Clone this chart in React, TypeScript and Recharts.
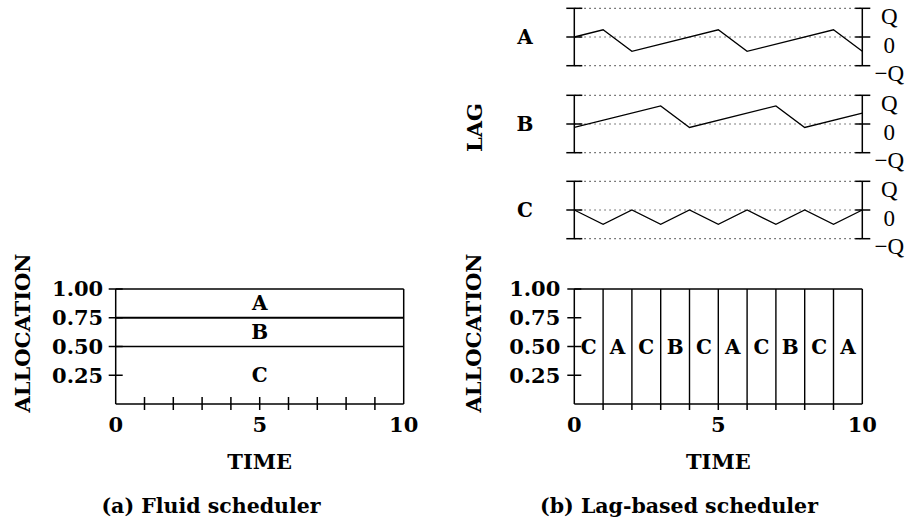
import React from 'react';
import {
  ComposedChart,
  LineChart,
  Line,
  Scatter,
  XAxis,
  YAxis,
  ReferenceLine,
  LabelList,
} from 'recharts';

const SERIF = '"DejaVu Serif", "Liberation Serif", serif';
const TIMES = '"Liberation Serif", "Times New Roman", serif';

// ---------- data ----------
const timeTicks = [0, 1, 2, 3, 4, 5, 6, 7, 8, 9, 10];
const timeLabelTicks = [0, 5, 10];
const allocationTicks = [0.25, 0.5, 0.75, 1.0];
const lagTicks = [-1, 0, 1];
const lagTickLabels = ['\u2212Q', '0', 'Q'];

// fluid scheduler: shares stacked from bottom to top
const fluidTasks = ['C', 'B', 'A'];
const fluidShares = [0.5, 0.25, 0.25];

// lag-based scheduler: task run in each unit time slot
const schedule = ['C', 'A', 'C', 'B', 'C', 'A', 'C', 'B', 'C', 'A'];

// lag curves (in units of Q)
const lagTimesA = [0, 1, 2, 5, 6, 9, 10];
const lagValuesA = [0, 0.25, -0.5, 0.25, -0.5, 0.25, -0.5];
const lagTimesB = [0, 3, 4, 7, 8, 10];
const lagValuesB = [-0.12, 0.63, -0.12, 0.63, -0.12, 0.38];
const lagTimesC = [0, 1, 2, 3, 4, 5, 6, 7, 8, 9, 10];
const lagValuesC = [0, -0.5, 0, -0.5, 0, -0.5, 0, -0.5, 0, -0.5, 0];

// ---------- derived tables ----------
const fluidTops: number[] = [];
fluidShares.reduce((acc, s) => {
  fluidTops.push(acc + s);
  return acc + s;
}, 0);
const fluidBoundaryData = [timeTicks[0], timeTicks[timeTicks.length - 1]].map((t) => ({
  t,
  c: fluidTops[0],
  b: fluidTops[1],
}));
const fluidLabelData = fluidTasks.map((task, i) => ({
  t: 5,
  y: fluidTops[i] - fluidShares[i] / 2,
  task,
}));
const slotData = schedule.map((task, i) => ({ t: i + 0.5, y: 0.5, task }));
const slotBoundaries = schedule.slice(1).map((_, i) => i + 1);

const toLag = (ts: number[], vs: number[]) => ts.map((t, i) => ({ t, lag: vs[i] }));
const lagCharts = [
  { name: 'A', data: toLag(lagTimesA, lagValuesA), top: 0 },
  { name: 'B', data: toLag(lagTimesB, lagValuesB), top: 86.5 },
  { name: 'C', data: toLag(lagTimesC, lagValuesC), top: 173 },
];

// ---------- tick / label renderers ----------
function TimeTick(props: any) {
  const { x, y, payload, inner } = props;
  const v = payload.value;
  return (
    <g>
      {v !== 0 && v !== 10 && (
        <line x1={x} x2={x} y1={y - inner} y2={y + 6} stroke="#000" strokeWidth={1.5} />
      )}
      {timeLabelTicks.includes(v) && (
        <text x={x} y={y + 28} textAnchor="middle" fontFamily={SERIF} fontWeight="bold" fontSize={21} fill="#000">
          {v}
        </text>
      )}
    </g>
  );
}

function AllocYTick(props: any) {
  const { x, y, payload, gap } = props;
  return (
    <g>
      <line x1={x - 7} x2={x + 7} y1={y} y2={y} stroke="#000" strokeWidth={1.5} />
      <text x={x - gap} y={y + 7.4} textAnchor="end" fontFamily={SERIF} fontWeight="bold" fontSize={21} fill="#000">
        {Number(payload.value).toFixed(2)}
      </text>
    </g>
  );
}

function LagLeftTick(props: any) {
  const { x, y } = props;
  return <line x1={x - 8} x2={x + 8} y1={y} y2={y} stroke="#000" strokeWidth={1.5} />;
}

function LagRightTick(props: any) {
  const { x, y, payload } = props;
  const idx = lagTicks.indexOf(payload.value);
  return (
    <g>
      <line x1={x - 7} x2={x + 8} y1={y} y2={y} stroke="#000" strokeWidth={1.5} />
      <text x={x + 27} y={y + 15.5} textAnchor="middle" fontFamily={TIMES} fontSize={23} fill="#000">
        {lagTickLabels[idx]}
      </text>
    </g>
  );
}

function XTitle(props: any) {
  const { viewBox } = props;
  if (!viewBox) return null;
  return (
    <text
      x={viewBox.x + viewBox.width / 2}
      y={viewBox.y + 65}
      textAnchor="middle"
      fontFamily={SERIF}
      fontWeight="bold"
      fontSize={21}
      fill="#000"
    >
      TIME
    </text>
  );
}

function YTitle(props: any) {
  const { viewBox, cx, dy, text } = props;
  if (!viewBox) return null;
  const cy = viewBox.y + viewBox.height / 2 + dy;
  return (
    <text
      x={cx}
      y={cy}
      transform={`rotate(-90 ${cx} ${cy})`}
      textAnchor="middle"
      dominantBaseline="central"
      fontFamily={SERIF}
      fontWeight="bold"
      fontSize={21}
      fill="#000"
    >
      {text}
    </text>
  );
}

function LagTitles(props: any) {
  const { viewBox, name, withLag } = props;
  if (!viewBox) return null;
  const cy = viewBox.y + viewBox.height / 2;
  return (
    <g>
      <text x={85} y={cy + 7.3} textAnchor="middle" fontFamily={SERIF} fontWeight="bold" fontSize={20} fill="#000">
        {name}
      </text>
      {withLag && (
        <text
          x={34}
          y={cy + 3.5}
          transform={`rotate(-90 34 ${cy + 3.5})`}
          textAnchor="middle"
          dominantBaseline="central"
          fontFamily={SERIF}
          fontWeight="bold"
          fontSize={21}
          fill="#000"
        >
          LAG
        </text>
      )}
    </g>
  );
}

const captionStyle: React.CSSProperties = {
  position: 'absolute',
  top: 494,
  fontFamily: SERIF,
  fontWeight: 'bold',
  fontSize: 20.5,
  lineHeight: '24px',
  textAlign: 'center',
  whiteSpace: 'nowrap',
  color: '#000',
};

const ALLOC_TOP = 240;

export default function App() {
  return (
    <div style={{ position: 'absolute', left: 0, top: 0, width: 907, height: 523, background: '#fff', overflow: 'hidden' }}>
      {/* (b) Lag-based scheduler: lag curves */}
      {lagCharts.map((c) => (
        <div key={c.name} style={{ position: 'absolute', left: 440, top: c.top }}>
          <LineChart width={467} height={92} data={c.data} margin={{ top: 8.3, right: 0, bottom: 26.3, left: 0 }}>
            <XAxis type="number" dataKey="t" domain={[0, 10]} allowDataOverflow hide />
            <YAxis
              type="number"
              domain={[-1, 1]}
              ticks={lagTicks}
              interval={0}
              allowDataOverflow
              width={134.3}
              tickSize={0}
              tickMargin={0}
              tickLine={false}
              axisLine={{ stroke: '#000', strokeWidth: 1.5 }}
              tick={(p: any) => <LagLeftTick {...p} />}
              label={<LagTitles name={c.name} withLag={c.name === 'B'} />}
            />
            <YAxis
              yAxisId="right"
              orientation="right"
              type="number"
              domain={[-1, 1]}
              ticks={lagTicks}
              interval={0}
              allowDataOverflow
              width={44.7}
              tickSize={0}
              tickMargin={0}
              tickLine={false}
              axisLine={{ stroke: '#000', strokeWidth: 1.5 }}
              tick={(p: any) => <LagRightTick {...p} />}
            />
            {lagTicks.map((v) => (
              <ReferenceLine key={v} y={v} stroke="#555" strokeWidth={1.2} strokeDasharray="1.5 3.5" />
            ))}
            <Line type="linear" dataKey="lag" stroke="#000" strokeWidth={1.3} dot={false} isAnimationActive={false} />
          </LineChart>
        </div>
      ))}

      {/* (a) Fluid scheduler */}
      <div style={{ position: 'absolute', left: 0, top: ALLOC_TOP }}>
        <ComposedChart width={440} height={523 - ALLOC_TOP} margin={{ top: 289 - ALLOC_TOP, right: 36.3, bottom: 0, left: 0 }}>
          <XAxis
            type="number"
            dataKey="t"
            domain={[0, 10]}
            ticks={timeTicks}
            interval={0}
            allowDataOverflow
            height={119}
            tickSize={0}
            tickMargin={0}
            tickLine={false}
            axisLine={{ stroke: '#000', strokeWidth: 1.5 }}
            tick={(p: any) => <TimeTick {...p} inner={7} />}
            label={<XTitle />}
          />
          <YAxis
            type="number"
            domain={[0, 1]}
            ticks={allocationTicks}
            interval={0}
            allowDataOverflow
            width={115.7}
            tickSize={0}
            tickMargin={0}
            tickLine={false}
            axisLine={{ stroke: '#000', strokeWidth: 1.5 }}
            tick={(p: any) => <AllocYTick {...p} gap={12.5} />}
            label={<YTitle cx={22.5} dy={-13.5} text="ALLOCATION" />}
          />
          <ReferenceLine y={1} stroke="#000" strokeWidth={1.5} />
          <ReferenceLine x={10} stroke="#000" strokeWidth={1.5} />
          <Line data={fluidBoundaryData} dataKey="b" stroke="#000" strokeWidth={2.2} dot={false} isAnimationActive={false} />
          <Line data={fluidBoundaryData} dataKey="c" stroke="#000" strokeWidth={1.6} dot={false} isAnimationActive={false} />
          <Scatter data={fluidLabelData} dataKey="y" shape={() => <g />} isAnimationActive={false}>
            <LabelList dataKey="task" position="center" fill="#000" fontFamily={SERIF} fontWeight="bold" fontSize={20} />
          </Scatter>
        </ComposedChart>
      </div>

      {/* (b) Lag-based scheduler: allocation */}
      <div style={{ position: 'absolute', left: 440, top: ALLOC_TOP }}>
        <ComposedChart width={467} height={523 - ALLOC_TOP} margin={{ top: 289 - ALLOC_TOP, right: 44.7, bottom: 0, left: 0 }}>
          <XAxis
            type="number"
            dataKey="t"
            domain={[0, 10]}
            ticks={timeTicks}
            interval={0}
            allowDataOverflow
            height={119}
            tickSize={0}
            tickMargin={0}
            tickLine={false}
            axisLine={{ stroke: '#000', strokeWidth: 1.5 }}
            tick={(p: any) => <TimeTick {...p} inner={0} />}
            label={<XTitle />}
          />
          <YAxis
            type="number"
            domain={[0, 1]}
            ticks={allocationTicks}
            interval={0}
            allowDataOverflow
            width={134.3}
            tickSize={0}
            tickMargin={0}
            tickLine={false}
            axisLine={{ stroke: '#000', strokeWidth: 1.5 }}
            tick={(p: any) => <AllocYTick {...p} gap={14} />}
            label={<YTitle cx={33} dy={-13.5} text="ALLOCATION" />}
          />
          <ReferenceLine y={1} stroke="#000" strokeWidth={1.5} />
          <ReferenceLine x={10} stroke="#000" strokeWidth={1.5} />
          {slotBoundaries.map((b) => (
            <ReferenceLine key={b} x={b} stroke="#000" strokeWidth={1.4} />
          ))}
          <Scatter data={slotData} dataKey="y" shape={() => <g />} isAnimationActive={false}>
            <LabelList dataKey="task" position="center" fill="#000" fontFamily={SERIF} fontWeight="bold" fontSize={20} />
          </Scatter>
        </ComposedChart>
      </div>

      <div style={{ ...captionStyle, left: 61, width: 300 }}>(a) Fluid scheduler</div>
      <div style={{ ...captionStyle, left: 529, width: 300 }}>(b) Lag-based scheduler</div>
    </div>
  );
}
